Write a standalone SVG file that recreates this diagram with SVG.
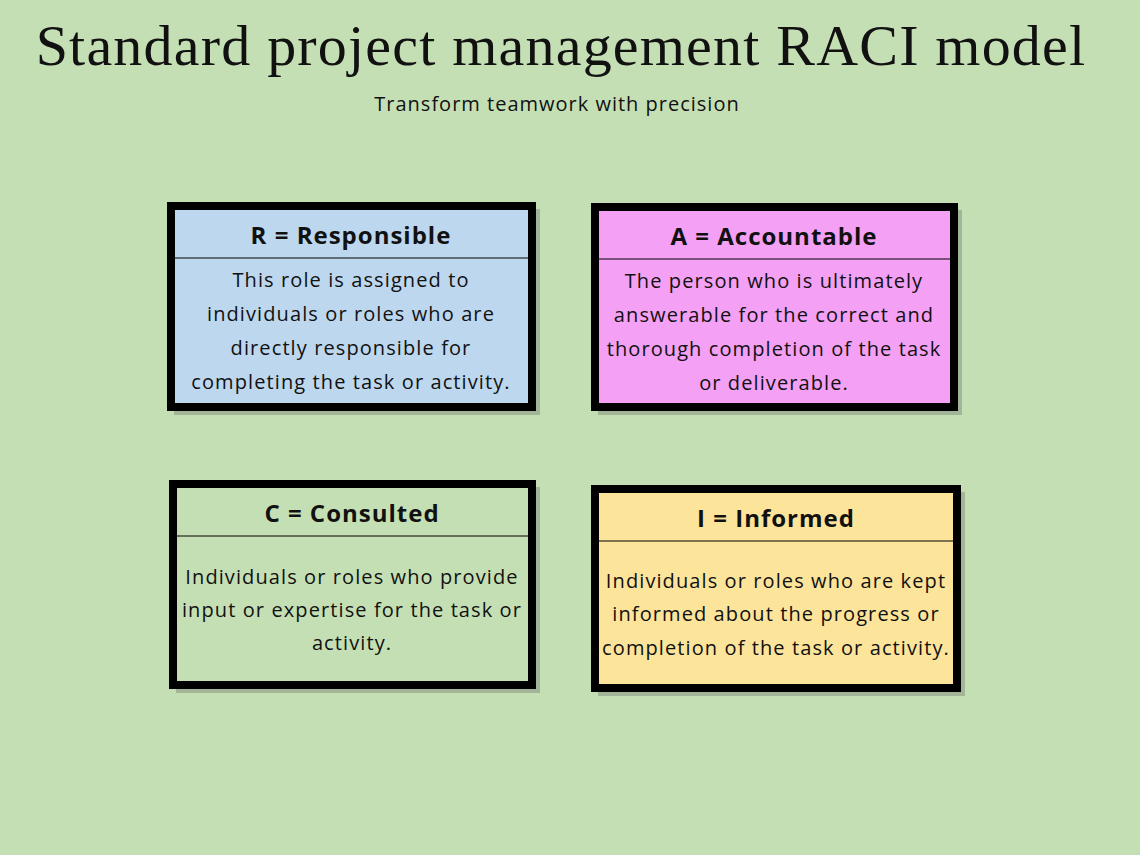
<svg xmlns="http://www.w3.org/2000/svg" width="1140" height="855" viewBox="0 0 1140 855">
<defs>
<style>
.frame{stroke:#000;stroke-width:8}
.shadow{fill:#8a9a86;opacity:0.6}
.div{stroke:#000;stroke-width:1}
.h{font-family:"Open Sans","Liberation Sans",sans-serif;font-weight:bold;font-size:24px;letter-spacing:1px;text-anchor:middle;fill:#111}
.b{font-family:"Open Sans","Liberation Sans",sans-serif;font-size:20px;letter-spacing:1.1px;text-anchor:middle;fill:#111}
</style>
</defs>
<rect width="1140" height="855" fill="#c5dfb4"/>
<text x="561" y="65" font-family="Liberation Serif,serif" font-size="58" letter-spacing="1.2" text-anchor="middle" fill="#111">Standard project management RACI model</text>
<text x="557" y="111" font-family="Open Sans,Liberation Sans,sans-serif" font-size="20" letter-spacing="1" text-anchor="middle" fill="#111">Transform teamwork with precision</text>
<g id="connectors"/>
<g id="node-r">
<rect class="shadow" x="174" y="209" width="366" height="206"/>
<rect class="frame" x="171" y="206" width="361" height="201" fill="#bdd7ee"/>
<line class="div" x1="175" y1="258" x2="528" y2="258"/>
<text class="h" x="351" y="244">R = Responsible</text>
<text class="b" x="351" y="287">This role is assigned to</text>
<text class="b" x="351" y="321">individuals or roles who are</text>
<text class="b" x="351" y="355">directly responsible for</text>
<text class="b" x="351" y="389">completing the task or activity.</text>
</g>
<g id="node-a">
<rect class="shadow" x="598" y="210" width="364" height="205"/>
<rect class="frame" x="595" y="207" width="359" height="200" fill="#f4a0f4"/>
<line class="div" x1="599" y1="259" x2="950" y2="259"/>
<text class="h" x="774" y="245">A = Accountable</text>
<text class="b" x="774" y="288">The person who is ultimately</text>
<text class="b" x="774" y="322">answerable for the correct and</text>
<text class="b" x="774" y="356">thorough completion of the task</text>
<text class="b" x="774" y="390">or deliverable.</text>
</g>
<g id="node-c">
<rect class="shadow" x="176" y="487" width="364" height="206"/>
<rect class="frame" x="173" y="484" width="359" height="201" fill="#c5dfb4"/>
<line class="div" x1="177" y1="536" x2="528" y2="536"/>
<text class="h" x="352" y="522">C = Consulted</text>
<text class="b" x="352" y="584">Individuals or roles who provide</text>
<text class="b" x="352" y="617">input or expertise for the task or</text>
<text class="b" x="352" y="650">activity.</text>
</g>
<g id="node-i">
<rect class="shadow" x="598" y="492" width="367" height="204"/>
<rect class="frame" x="595" y="489" width="362" height="199" fill="#fde49b"/>
<line class="div" x1="599" y1="541" x2="953" y2="541"/>
<text class="h" x="776" y="527">I = Informed</text>
<text class="b" x="776" y="588">Individuals or roles who are kept</text>
<text class="b" x="776" y="621">informed about the progress or</text>
<text class="b" x="776" y="655">completion of the task or activity.</text>
</g>
</svg>
